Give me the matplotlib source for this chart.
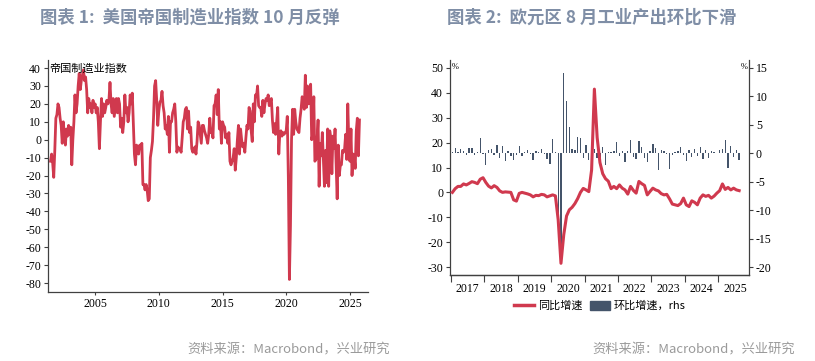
import numpy as np
import matplotlib
matplotlib.use("Agg")
import matplotlib.pyplot as plt
from matplotlib.lines import Line2D
from matplotlib.patches import Patch

plt.rcParams['font.family'] = ['Noto Sans CJK SC', 'DejaVu Sans']

# ---------------------------------------------------------------------------
# Data: Empire State manufacturing index, monthly, 2001-07 .. 2025-10
# ---------------------------------------------------------------------------
empire_2001 = [-12, -8, -13, -21, -6, 12]
empire_2002 = [14, 20, 18, 12, 8, -2, 10, 3, -3, 6, 2, 8]
empire_2003 = [3, 7, -14, 0, 10, 25, 15, 20, 30, 37, 28, 33]
empire_2004 = [36, 39, 33, 35, 28, 15, 23, 18, 20, 15, 22, 18]
empire_2005 = [20, 15, 18, 10, -5, 10, 23, 13, 20, 15, 18, 22]
empire_2006 = [20, 22, 32, 20, 15, 23, 13, 18, 23, 15, 23, 20]
empire_2007 = [7, 12, 4, 10, 25, 15, 18, 10, 15, 25, 20, 26]
empire_2008 = [9, -8, -14, -3, -5, -8, -3, -5, -2, -25, -25, -28]
empire_2009 = [-25, -28, -34, -33, -10, -6, -1, 12, 30, 33, 22, 8]
empire_2010 = [16, 21, 22, 27, 19, 15, 6, 8, 3, 13, -7, 10]
empire_2011 = [10, 15, 17, 20, 10, -7, -4, -5, -5, -7, 1, 10]
empire_2012 = [12, 17, 18, 6, 16, 4, 7, -5, -7, -6, -4, -8]
empire_2013 = [-1, 10, 8, 3, -2, 8, 8, 5, 3, 1, -2, 3]
empire_2014 = [12, 4, 5, 1, 19, 20, 25, 14, 28, 6, 10, -2]
empire_2015 = [10, 8, 7, 1, 3, -2, 4, -12, -14, -12, -10, -5]
empire_2016 = [-17, -10, 0, 8, -8, 6, 0, -4, -2, -7, 1, 8]
empire_2017 = [6, 18, 16, 5, -1, 20, 10, 25, 24, 30, 19, 18]
empire_2018 = [18, 13, 22, 15, 20, 23, 22, 25, 19, 21, 23, 11]
empire_2019 = [4, 9, 3, 10, 18, -8, 4, 5, 2, 4, 3, 4]
empire_2020 = [5, 13, -21, -78, -48, 0, 17, 3, 17, 10, 6, 5]
empire_2021 = [4, 12, 17, 24, 22, 17, 36, 18, 30, 20, 28, 31]
empire_2022 = [0, 3, 24, -12, -11, -1, 11, -26, -2, -9, 4, -11]
empire_2023 = [-26, -6, -24, 6, -26, 5, 1, -19, 2, -5, 6, -14]
empire_2024 = [-33, -3, -20, -14, -14, -6, -7, -5, 3, -11, 20, -2]
empire_2025 = [-12, 6, -20, -8, -9, -16, 5, 12, -9, 11]

empire = np.concatenate([
    empire_2001, empire_2002, empire_2003, empire_2004, empire_2005,
    empire_2006, empire_2007, empire_2008, empire_2009, empire_2010,
    empire_2011, empire_2012, empire_2013, empire_2014, empire_2015,
    empire_2016, empire_2017, empire_2018, empire_2019, empire_2020,
    empire_2021, empire_2022, empire_2023, empire_2024, empire_2025,
])
empire_x = 2001 + (6 + np.arange(len(empire))) / 12

# ---------------------------------------------------------------------------
# Data: euro area industrial production, monthly, 2017-01 .. 2025-08
# ---------------------------------------------------------------------------
yoy_2017 = [0.0, 1.5, 2.4, 2.4, 3.4, 3.0, 3.6, 4.3, 4.0, 3.5, 5.3, 5.9]
yoy_2018 = [4.0, 2.5, 1.8, 2.7, 2.0, 0.6, 0.0, 0.2, 0.1, 0.0, -3.0, -3.5]
yoy_2019 = [-0.4, 0.0, -0.3, -0.6, -1.0, -1.8, -1.2, -1.3, -0.8, -1.0, -1.8, -1.4]
yoy_2020 = [-1.0, -1.4, -11.0, -28.5, -17.0, -9.5, -7.0, -6.0, -4.5, -2.5, 0.0, 1.6]
yoy_2021 = [1.0, 0.3, 9.0, 41.5, 22.0, 12.0, 7.5, 5.5, 4.5, 1.5, 2.4, 1.5]
yoy_2022 = [3.0, 1.7, 1.0, -0.7, 2.4, 0.8, -0.3, 4.4, 3.5, 2.8, -1.0, 0.4]
yoy_2023 = [1.7, 1.0, 0.6, -0.5, -1.0, -0.8, -2.6, -4.7, -5.0, -5.3, -4.5, -2.3]
yoy_2024 = [-5.0, -5.7, -3.4, -4.0, -5.0, -2.3, -1.0, -1.6, -1.2, -2.3, -1.5, -0.3]
yoy_2025 = [0.7, 3.4, 1.2, 2.0, 1.0, 1.7, 1.0, 0.7]

mom_2017 = [0.3, 0.9, 0.3, 0.7, 0.4, -0.3, 1.0, 0.9, -0.3, 0.2, 2.6, -0.2]
mom_2018 = [-2.0, 0.5, 0.8, -0.3, 1.4, -0.8, 1.3, -1.3, 0.4, -0.5, -1.2, -0.3]
mom_2019 = [1.2, -0.5, 0.2, 0.5, -0.2, -1.1, 0.4, 0.2, 0.7, -0.2, -1.0, -1.9]
mom_2020 = [2.5, 0.2, -11.4, -19.0, 14.1, 9.2, 4.7, 0.8, 0.5, 2.8, 2.7, -0.8]
mom_2021 = [1.5, -1.2, 0.9, 0.7, -0.8, -1.2, 1.1, -2.0, 0.3, 0.3, 0.4, 2.0]
mom_2022 = [-0.5, 0.4, -1.5, 0.4, 2.3, -0.7, -1.0, 2.1, 1.1, -0.8, -1.5, 0.4]
mom_2023 = [1.6, 1.0, -3.0, 0.5, 0.4, -0.2, -2.7, -0.3, 0.3, 0.4, 1.1, -0.3]
mom_2024 = [-1.3, 0.6, -0.7, 0.7, -0.4, 1.1, -1.0, 0.5, -0.8, 0.4, 0.3, 0.0]
mom_2025 = [0.5, 0.8, 2.3, -2.5, 1.2, -0.7, 0.6, -1.2]

ea_yoy = np.concatenate([yoy_2017, yoy_2018, yoy_2019, yoy_2020, yoy_2021,
                         yoy_2022, yoy_2023, yoy_2024, yoy_2025])
ea_mom = np.concatenate([mom_2017, mom_2018, mom_2019, mom_2020, mom_2021,
                         mom_2022, mom_2023, mom_2024, mom_2025])
ea_x = 2017 + (np.arange(len(ea_yoy)) + 0.5) / 12

ea_years = list(range(2017, 2026))
empire_years = [2005, 2010, 2015, 2020, 2025]

RED = "#d0394e"
NAVY = "#44546a"
TITLE = "#7f8ea6"
SPINE = "#404040"
SERIF = "Liberation Serif"

W, H = 815, 361
fig = plt.figure(figsize=(W / 100, H / 100), dpi=100)


def box(x0, y0, x1, y1):
    return [x0 / W, 1 - y1 / H, (x1 - x0) / W, (y1 - y0) / H]


def style_axis(ax):
    for s in ax.spines.values():
        s.set_color(SPINE)
        s.set_linewidth(0.9)
    ax.spines["top"].set_visible(False)
    ax.tick_params(colors=SPINE, labelcolor="black", width=0.8)


# ---------------------------------------------------------------------------
# Left chart
# ---------------------------------------------------------------------------
ax1 = fig.add_axes(box(48, 60, 368, 292))
style_axis(ax1)
ax1.spines["right"].set_visible(False)
ax1.plot(empire_x, empire, color=RED, lw=2.0)
ax1.set_xlim(2001.3, 2026.42)
ax1.set_ylim(-85, 44.5)
yt = list(range(40, -81, -10))
ax1.set_yticks(yt)
ax1.set_yticklabels([str(v) for v in yt], fontfamily=SERIF, fontsize=8.5)
ax1.set_xticks(empire_years)
ax1.set_xticklabels([str(y) for y in empire_years], fontfamily=SERIF, fontsize=8.5)
ax1.tick_params(axis="y", length=3, pad=2)
ax1.tick_params(axis="x", length=2, pad=2)
ax1.text(0.004, 0.985, "帝国制造业指数", transform=ax1.transAxes,
         fontsize=8, va="top", ha="left", color="black")

# ---------------------------------------------------------------------------
# Right chart
# ---------------------------------------------------------------------------
ax2 = fig.add_axes(box(450, 60, 749, 275))
style_axis(ax2)
ax3 = ax2.twinx()
style_axis(ax3)
ax3.spines["left"].set_visible(False)
ax2.spines["right"].set_visible(False)

ax3.bar(ea_x, ea_mom, width=0.04, color=NAVY, zorder=2)
ax2.plot(ea_x, ea_yoy, color=RED, lw=2.2, zorder=3)
ax2.set_zorder(ax3.get_zorder() + 1)
ax2.patch.set_visible(False)

ax2.set_xlim(2016.97, 2025.92)
ax2.set_ylim(-33.2, 53.2)
ax3.set_ylim(-21.4, 16.4)
lt = list(range(50, -31, -10))
ax2.set_yticks(lt)
ax2.set_yticklabels([str(v) for v in lt], fontfamily=SERIF, fontsize=8.5)
rt = list(range(15, -21, -5))
ax3.set_yticks(rt)
ax3.set_yticklabels([str(v) for v in rt], fontfamily=SERIF, fontsize=8.5)
ax2.tick_params(axis="y", length=3, pad=2)
ax3.tick_params(axis="y", length=3, pad=2)

ax2.set_xticks(ea_years)
ax2.set_xticklabels([])
ax2.set_xticks([y + 0.5 for y in ea_years], minor=True)
ax2.set_xticklabels([str(y) for y in ea_years], minor=True,
                    fontfamily=SERIF, fontsize=8.5)
ax2.tick_params(axis="x", which="major", length=5, direction="out")
ax2.tick_params(axis="x", which="minor", length=0, pad=6)

ax2.text(0.005, 0.985, "%", transform=ax2.transAxes, fontsize=6,
         va="top", ha="left", fontfamily=SERIF)
ax2.text(0.995, 0.985, "%", transform=ax2.transAxes, fontsize=6,
         va="top", ha="right", fontfamily=SERIF)

handles = [Line2D([], [], color=RED, lw=2.5),
           Patch(facecolor=NAVY, edgecolor=NAVY)]
fig.legend(handles, ["同比增速", "环比增速，rhs"], loc="center",
           bbox_to_anchor=(600 / W, 1 - 306 / H), ncol=2, frameon=False,
           fontsize=8, handlelength=1.8, handleheight=0.8,
           handletextpad=0.4, columnspacing=0.6)

# ---------------------------------------------------------------------------
# Titles and sources
# ---------------------------------------------------------------------------
fig.text(40 / W, 1 - 18 / H, "图表 1:  美国帝国制造业指数 10 月反弹",
         fontsize=12.5, fontweight="bold", color=TITLE, va="center", ha="left")
fig.text(447 / W, 1 - 18 / H, "图表 2:  欧元区 8 月工业产出环比下滑",
         fontsize=12.5, fontweight="bold", color=TITLE, va="center", ha="left")
fig.text(390 / W, 1 - 350 / H, "资料来源：Macrobond，兴业研究",
         fontsize=9.5, color="#9a9a9a", va="center", ha="right")
fig.text(795 / W, 1 - 350 / H, "资料来源：Macrobond，兴业研究",
         fontsize=9.5, color="#9a9a9a", va="center", ha="right")

fig.savefig("out.png", dpi=100)
